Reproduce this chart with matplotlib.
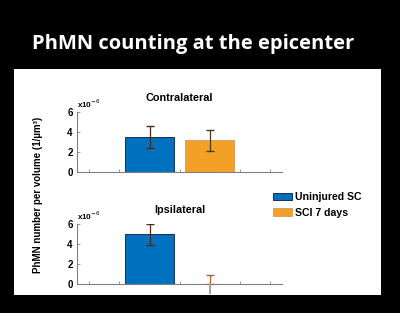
import matplotlib
matplotlib.use('Agg')
import matplotlib.pyplot as plt
from matplotlib.patches import Rectangle

## data (x10^-6 per um^3)
groups = ['Uninjured SC', 'SCI 7 days']
contra_mean = [3.5, 3.15]
contra_err = [1.08, 1.08]
ipsi_mean = [5.0, 0.0]
ipsi_err = [1.05, 0.97]
bar_pos = [3, 5]
tick_pos = [1, 2, 3, 4, 5, 6, 7]
ytick_vals = [0, 2, 4, 6]

colors = ['#0071bf', '#f3a026']
edges = ['#1c2f4c', '#d9a06a']
err_colors = ['#4a2a1c', '#4a3a1c']

plt.rcParams['font.family'] = ['Liberation Sans', 'DejaVu Sans']

fig = plt.figure(figsize=(4.0, 3.13), dpi=100)
fig.patch.set_facecolor('black')

# white panel
fig.patches.append(Rectangle((0.0358, 0.0575), 0.917, 0.721, transform=fig.transFigure,
                             facecolor='white', edgecolor='none', zorder=-1))

fig.text(0.484, 0.859, 'PhMN counting at the epicenter', color='white',
         fontsize=14.5, fontweight='bold', family='Open Sans', ha='center', va='center')


def draw_panel(ax, means, errs, title):
    bars = []
    for i in range(len(means)):
        b = ax.bar(bar_pos[i], means[i], width=1.62, color=colors[i], edgecolor=edges[i],
                   linewidth=0.7, label=groups[i], zorder=2)
        bars.append(b)
    for i in range(len(means)):
        if means[i] == 0:
            # only the upper half shows above the axis
            ax.errorbar(bar_pos[i], means[i], yerr=[[0], [errs[i]]], fmt='none',
                        ecolor='#b0603a', elinewidth=0.9, capsize=3, zorder=3)
            ax.vlines(bar_pos[i], means[i] - errs[i], means[i], color='#a0a0a0',
                      linewidth=1.4, clip_on=False, zorder=3)
        else:
            ax.errorbar(bar_pos[i], means[i], yerr=errs[i], fmt='none',
                        ecolor=err_colors[i], elinewidth=0.9, capsize=3, zorder=3)
    ax.set_xlim(0.58, 7.42)
    ax.set_ylim(0, 6)
    ax.set_xticks(tick_pos)
    ax.set_xticklabels([])
    ax.set_yticks(ytick_vals)
    ax.set_yticklabels([str(v) for v in ytick_vals], fontsize=7, fontweight='bold')
    ax.tick_params(axis='both', direction='in', length=2, width=0.6, color='#888888', pad=3)
    for s in ['top', 'right']:
        ax.spines[s].set_visible(False)
    for s in ['left', 'bottom']:
        ax.spines[s].set_color('#808080')
        ax.spines[s].set_linewidth(0.8)
    ax.set_title(title, fontsize=7.8, fontweight='bold', pad=8)
    ax.text(0.0, 1.04, r'x10$^{-6}$', transform=ax.transAxes, fontsize=5.8,
            fontweight='bold', ha='left', va='bottom')
    return bars


ax1 = fig.add_axes([0.192, 0.451, 0.514, 0.191])
ax2 = fig.add_axes([0.192, 0.092, 0.514, 0.191])
ax1.patch.set_alpha(0)
ax2.patch.set_alpha(0)
draw_panel(ax1, contra_mean, contra_err, 'Contralateral')
bars = draw_panel(ax2, ipsi_mean, ipsi_err, 'Ipsilateral')

fig.legend(handles=[b[0] for b in bars], labels=groups, loc='upper left',
           bbox_to_anchor=(0.682, 0.385), frameon=False, prop={'size': 7.6, 'weight': 'bold'},
           handlelength=1.8, handleheight=0.7, handletextpad=0.35, labelspacing=0.5,
           borderpad=0, borderaxespad=0)

fig.text(0.096, 0.378, 'PhMN number per volume (1/µm³)', rotation=90, fontsize=7,
         fontweight='bold', ha='center', va='center')

# black band at the bottom hides what runs past the panel
fig.patches.append(Rectangle((0, 0), 1, 0.0575, transform=fig.transFigure,
                             facecolor='black', edgecolor='none', zorder=10))

fig.savefig('out.png', dpi=100, facecolor=fig.get_facecolor())
